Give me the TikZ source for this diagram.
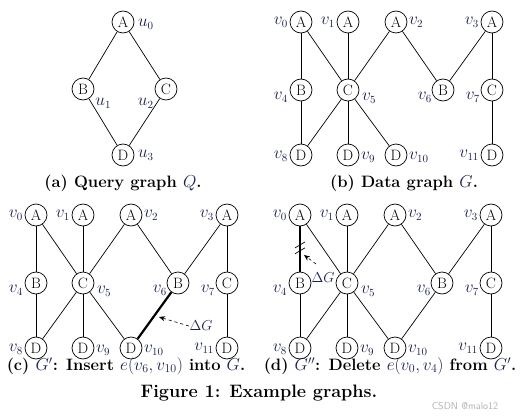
\documentclass[tikz,border=0pt]{standalone}
\usetikzlibrary{arrows.meta}
\definecolor{navy}{RGB}{26,34,80}
\tikzset{
  vtx/.style={circle,draw,line width=0.7pt,minimum size=22pt,inner sep=0pt,font=\fontsize{15}{15}\selectfont},
  lab/.style={text=navy,font=\fontsize{16}{16}\selectfont,inner sep=0.5pt},
  dlab/.style={text=navy,font=\fontsize{15}{15}\selectfont,inner sep=0.5pt},
  edge/.style={line width=0.7pt},
  thickedge/.style={line width=2.2pt},
  capt/.style={font=\fontsize{16.5}{19}\selectfont\bfseries,inner sep=0pt},
  darrow/.style={dashed,line width=0.6pt,-{Stealth[length=6pt,width=5pt]}},
  every label/.style={label distance=1pt}
}
\newcommand{\nv}[1]{\textcolor{navy}{#1}}
\newcommand{\DataNodes}[1]{%
  \node[vtx,label={[lab]left:$v_0$}] (#1v0) at (0,0) {A};
  \node[vtx,label={[lab]left:$v_1$}] (#1v1) at (47,0) {A};
  \node[vtx,label={[lab]right:$v_2$}] (#1v2) at (95,0) {A};
  \node[vtx,label={[lab]left:$v_3$}] (#1v3) at (191,0) {A};
  \node[vtx,label={[lab,yshift=-7pt]left:$v_4$}] (#1v4) at (0,68) {B};
  \node[vtx,label={[lab,yshift=-8pt,xshift=1pt]right:$v_5$}] (#1v5) at (47,68) {C};
  \node[vtx,label={[lab,yshift=-7pt,xshift=2pt]left:$v_6$}] (#1v6) at (142,68) {B};
  \node[vtx,label={[lab,yshift=-7pt,xshift=1pt]left:$v_7$}] (#1v7) at (191,68) {C};
  \node[vtx,label={[lab,yshift=-1pt]left:$v_8$}] (#1v8) at (0,133) {D};
  \node[vtx,label={[lab,yshift=-2pt]right:$v_9$}] (#1v9) at (47,133) {D};
  \node[vtx,label={[lab,yshift=-2pt]right:$v_{10}$}] (#1v10) at (95,133) {D};
  \node[vtx,label={[lab]left:$v_{11}$}] (#1v11) at (191,133) {D};
}
\newcommand{\DataEdges}[1]{%
  \draw[edge] (#1v4) -- (#1v8);
  \draw[edge] (#1v0) -- (#1v5);
  \draw[edge] (#1v1) -- (#1v5);
  \draw[edge] (#1v2) -- (#1v5);
  \draw[edge] (#1v2) -- (#1v6);
  \draw[edge] (#1v3) -- (#1v6);
  \draw[edge] (#1v3) -- (#1v7);
  \draw[edge] (#1v7) -- (#1v11);
  \draw[edge] (#1v5) -- (#1v8);
  \draw[edge] (#1v5) -- (#1v9);
  \draw[edge] (#1v5) -- (#1v10);
}
\begin{document}
\begin{tikzpicture}[x=1pt,y=-1pt]
\useasboundingbox (0,0) rectangle (522,420);
% (a) query graph
\node[vtx,label={[lab,yshift=-2pt,xshift=2pt]right:$u_0$}] (qa) at (123,22) {A};
\node[vtx,label={[lab,xshift=3pt]-45:$u_1$}] (qb) at (83,89) {B};
\node[vtx,label={[lab,xshift=-3pt]-135:$u_2$}] (qc) at (166,89) {C};
\node[vtx,label={[lab,xshift=2pt]right:$u_3$}] (qd) at (123,155) {D};
\draw[edge] (qa) -- (qb);
\draw[edge] (qa) -- (qc);
\draw[edge] (qb) -- (qd);
\draw[edge] (qc) -- (qd);
\node[capt] (capa) at (123,183) {(a) Query graph \nv{$Q$}.};
% (b) data graph
\begin{scope}[shift={(301,22)}]
  \DataNodes{b}
  \DataEdges{b}
  \draw[edge] (bv0) -- (bv4);
\end{scope}
\node[capt] (capb) at (404,183) {(b) Data graph \nv{$G$}.};
% (c)
\begin{scope}[shift={(36,215)}]
  \DataNodes{c}
  \DataEdges{c}
  \draw[edge] (cv0) -- (cv4);
  \draw[thickedge] (cv6) -- (cv10);
\end{scope}
\node[dlab] (cG) at (201,326) {$\Delta G$};
\coordinate (ctip) at (159,317);
\draw[darrow] (cG.west) -- (ctip);
\node[capt] (capc) at (126,366) {(c) \nv{$G'$}: Insert \nv{$e(v_6,v_{10})$} into \nv{$G$}.};
% (d)
\begin{scope}[shift={(300,215)}]
  \DataNodes{d}
  \DataEdges{d}
  \draw[edge] (dv6) -- (dv10);
  \draw[thickedge] (dv0) -- (dv4) coordinate[pos=0.41] (ds1) coordinate[pos=0.54] (ds2);
\end{scope}
\draw[edge] (ds1) +(-5,3) -- +(5,-3);
\draw[edge] (ds2) +(-5,3) -- +(5,-3);
\node[dlab] (dG) at (323,278) {$\Delta G$};
\coordinate (dstart) at (316,264);
\coordinate (dtip) at (304,255);
\draw[darrow] (dstart) -- (dtip);
\node[capt] (capd) at (390,366) {(d) \nv{$G''$}: Delete \nv{$e(v_0,v_4)$} from \nv{$G'$}.};
% figure caption
\node[font=\fontsize{18}{20}\selectfont\bfseries,inner sep=0pt] (fig) at (259,393) {Figure 1: Example graphs.};
\node[font=\sffamily\fontsize{10}{10}\selectfont,text=black!30,inner sep=0pt] (wm) at (465,406) {CSDN @malo12};
\end{tikzpicture}
\end{document}
